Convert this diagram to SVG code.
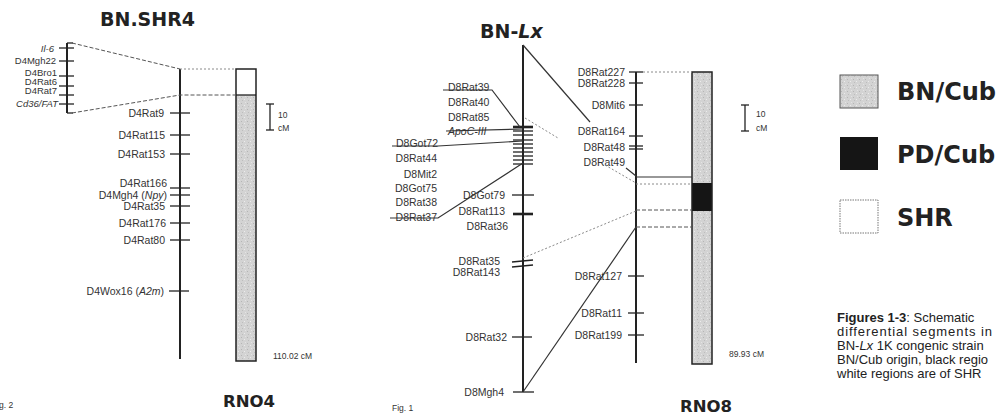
<svg xmlns="http://www.w3.org/2000/svg" width="1003" height="417" viewBox="0 0 1003 417">
<style>
.bg{fill:#fff}
.chr{stroke:#222;stroke-width:2;fill:none}
.tk{stroke:#222;stroke-width:1.3}
.tkb{stroke:#222;stroke-width:2.6}
.sol{stroke:#333;stroke-width:1.2;fill:none}
.dash{stroke:#555;stroke-width:1;stroke-dasharray:4 2;fill:none}
.dot{stroke:#8a8a8a;stroke-width:1;stroke-dasharray:2 2;fill:none}
.lbl{font-family:"Liberation Sans",Arial,sans-serif;font-size:10.5px;fill:#333;text-anchor:end}
.lbs{font-family:"Liberation Sans",Arial,sans-serif;font-size:10.5px;fill:#333}
.lsm{font-family:"Liberation Sans",Arial,sans-serif;font-size:9.5px;fill:#333;text-anchor:end}
.it{font-style:italic}
.ttl{font-family:"DejaVu Sans",Verdana,sans-serif;font-weight:bold;fill:#222}
.sm{font-family:"Liberation Sans",Arial,sans-serif;font-size:8.5px;fill:#333}
.cap{font-family:"Liberation Sans",Arial,sans-serif;font-size:13px;fill:#222}
.box{stroke:#222;stroke-width:1.5;fill:none}
</style>
<defs>
<pattern id="speck" width="6" height="6" patternUnits="userSpaceOnUse">
<rect width="6" height="6" fill="#d3d3d3"/>
<rect x="1" y="1" width="1" height="1" fill="#b5b5b5"/>
<rect x="4" y="3" width="1" height="1" fill="#ececec"/>
<rect x="2" y="4" width="1" height="1" fill="#bdbdbd"/>
<rect x="5" y="0" width="1" height="1" fill="#e4e4e4"/>
</pattern>
</defs>
<rect class="bg" width="1003" height="417"/>

<g id="titles">
<text class="ttl" x="100" y="26" font-size="19">BN.SHR4</text>
<text class="ttl" x="480" y="38" font-size="19">BN-<tspan font-style="italic">Lx</tspan></text>
<text class="ttl" x="223" y="407" font-size="16.5">RNO4</text>
<text class="ttl" x="680" y="412" font-size="16.5">RNO8</text>
<text class="sm" x="-8" y="408" font-size="9">Fig. 2</text>
<text class="sm" x="392" y="411" font-size="10">Fig. 1</text>
</g>

<g id="chr4-small">
<line class="chr" x1="67" y1="43" x2="67" y2="113" stroke-width="1.5"/>
<line class="tk" x1="67" y1="43" x2="73" y2="43"/>
<line class="tk" x1="67" y1="113" x2="73" y2="113"/>
<line class="tk" x1="59" y1="48" x2="74" y2="48"/>
<line class="tk" x1="59" y1="61" x2="74" y2="61"/>
<line class="tk" x1="59" y1="76" x2="74" y2="76"/>
<line class="tk" x1="59" y1="86" x2="74" y2="86"/>
<line class="tk" x1="59" y1="95" x2="74" y2="95"/>
<line class="tk" x1="59" y1="104" x2="74" y2="104"/>
<text class="lsm it" x="54" y="52">Il-6</text>
<text class="lsm" x="56" y="64">D4Mgh22</text>
<text class="lsm" x="57" y="76">D4Bro1</text>
<text class="lsm" x="57" y="85">D4Rat6</text>
<text class="lsm" x="57" y="94">D4Rat7</text>
<text class="lsm it" x="58" y="107">Cd36/FAT</text>
</g>

<g id="chr4-map">
<line class="chr" x1="180" y1="69" x2="180" y2="359"/>
<line class="tk" x1="170" y1="113" x2="190" y2="113"/>
<line class="tk" x1="170" y1="135" x2="190" y2="135"/>
<line class="tk" x1="170" y1="154" x2="190" y2="154"/>
<line class="tk" x1="170" y1="188" x2="190" y2="188"/>
<line class="tk" x1="170" y1="195" x2="190" y2="195"/>
<line class="tk" x1="170" y1="206" x2="190" y2="206"/>
<line class="tk" x1="170" y1="223" x2="190" y2="223"/>
<line class="tk" x1="170" y1="240" x2="190" y2="240"/>
<line class="tk" x1="169" y1="291" x2="189" y2="291"/>
<text class="lbl" x="164" y="117">D4Rat9</text>
<text class="lbl" x="165" y="139">D4Rat115</text>
<text class="lbl" x="165" y="158">D4Rat153</text>
<text class="lbl" x="167" y="187">D4Rat166</text>
<text class="lbl" x="167" y="199">D4Mgh4 (<tspan class="it">Npy</tspan>)</text>
<text class="lbl" x="165" y="210">D4Rat35</text>
<text class="lbl" x="166" y="227">D4Rat176</text>
<text class="lbl" x="165" y="244">D4Rat80</text>
<text class="lbl" x="164" y="295">D4Wox16 (<tspan class="it">A2m</tspan>)</text>
</g>

<g id="chr4-bar">
<rect x="236" y="69" width="20" height="26" fill="#fff"/>
<rect x="236" y="95" width="20" height="266" fill="url(#speck)"/>
<rect class="box" x="236" y="69" width="20" height="292"/>
<line class="tk" x1="236" y1="95" x2="256" y2="95"/>
<text class="sm" x="273" y="359">110.02 cM</text>
</g>

<g id="scale4">
<line class="tk" x1="270" y1="104" x2="270" y2="130" stroke-width="1"/>
<line class="tk" x1="266" y1="104" x2="274" y2="104" stroke-width="1"/>
<line class="tk" x1="266" y1="130" x2="274" y2="130" stroke-width="1"/>
<text class="sm" x="278" y="118">10</text>
<text class="sm" x="278" y="131">cM</text>
</g>

<g id="chr8-map">
<line class="chr" x1="523" y1="45" x2="523" y2="392"/>
<line class="tkb" x1="513" y1="127" x2="533" y2="127"/>
<line class="tk" x1="513" y1="131" x2="533" y2="131"/>
<line class="tk" x1="513" y1="135" x2="533" y2="135"/>
<line class="tk" x1="513" y1="140" x2="533" y2="140"/>
<line class="tk" x1="513" y1="144" x2="533" y2="144"/>
<line class="tk" x1="513" y1="148" x2="533" y2="148"/>
<line class="tk" x1="513" y1="152" x2="533" y2="152"/>
<line class="tk" x1="513" y1="156" x2="533" y2="156"/>
<line class="tk" x1="513" y1="160" x2="533" y2="160"/>
<line class="tk" x1="513" y1="164" x2="533" y2="164"/>
<line class="tk" x1="512" y1="195" x2="534" y2="195"/>
<line class="tkb" x1="513" y1="214" x2="533" y2="214"/>
<line class="tk" x1="512" y1="262" x2="533" y2="260"/>
<line class="tk" x1="512" y1="267" x2="533" y2="265"/>
<line class="tk" x1="512" y1="337" x2="532" y2="337"/>
<line class="tk" x1="513" y1="392" x2="534" y2="392"/>
<text class="lbs" x="448" y="91">D8Rat39</text>
<text class="lbs" x="448" y="106">D8Rat40</text>
<text class="lbs" x="448" y="121">D8Rat85</text>
<text class="lbs it" x="448" y="135">ApoC-III</text>
<text class="lbl" x="438" y="147">D8Got72</text>
<text class="lbl" x="437" y="162">D8Rat44</text>
<text class="lbl" x="437" y="178">D8Mit2</text>
<text class="lbl" x="437" y="192">D8Got75</text>
<text class="lbl" x="437" y="206">D8Rat38</text>
<text class="lbl" x="437" y="221">D8Rat37</text>
<text class="lbl" x="505" y="199">D8Got79</text>
<text class="lbl" x="505" y="215">D8Rat113</text>
<text class="lbl" x="508" y="230">D8Rat36</text>
<text class="lbl" x="500" y="265">D8Rat35</text>
<text class="lbl" x="500" y="276">D8Rat143</text>
<text class="lbl" x="507" y="341">D8Rat32</text>
<text class="lbl" x="504" y="396">D8Mgh4</text>
</g>

<g id="chr8-map2">
<line class="chr" x1="636" y1="72" x2="636" y2="363"/>
<line class="tk" x1="629" y1="72" x2="643" y2="72"/>
<line class="tk" x1="629" y1="83" x2="643" y2="83"/>
<line class="tk" x1="629" y1="105" x2="643" y2="105"/>
<line class="tk" x1="629" y1="136" x2="643" y2="136"/>
<line class="tk" x1="629" y1="146" x2="643" y2="146"/>
<line class="tk" x1="629" y1="149" x2="643" y2="149"/>
<line class="tk" x1="628" y1="276" x2="644" y2="276"/>
<line class="tk" x1="628" y1="313" x2="644" y2="313"/>
<line class="tk" x1="628" y1="335" x2="644" y2="335"/>
<text class="lbl" x="625" y="76">D8Rat227</text>
<text class="lbl" x="625" y="87">D8Rat228</text>
<text class="lbl" x="625" y="109">D8Mit6</text>
<text class="lbl" x="625" y="135">D8Rat164</text>
<text class="lbl" x="625" y="151">D8Rat48</text>
<text class="lbl" x="625" y="166">D8Rat49</text>
<text class="lbl" x="622" y="280">D8Rat127</text>
<text class="lbl" x="622" y="317">D8Rat11</text>
<text class="lbl" x="622" y="339">D8Rat199</text>
</g>

<g id="chr8-bar">
<rect x="692" y="72" width="20" height="292" fill="url(#speck)"/>
<rect x="692" y="183" width="20" height="28" fill="#151515"/>
<rect class="box" x="692" y="72" width="20" height="292"/>
<text class="sm" x="729" y="357">89.93 cM</text>
</g>

<g id="scale8">
<line class="tk" x1="745" y1="105" x2="745" y2="131" stroke-width="1"/>
<line class="tk" x1="741" y1="105" x2="749" y2="105" stroke-width="1"/>
<line class="tk" x1="741" y1="131" x2="749" y2="131" stroke-width="1"/>
<text class="sm" x="756" y="117">10</text>
<text class="sm" x="756" y="131">cM</text>
</g>

<g id="connectors">
<polyline class="dash" points="72,43 180,69"/>
<line class="dot" x1="180" y1="69" x2="236" y2="69"/>
<polyline class="dash" points="72,113 180,95 236,95"/>
<polyline class="sol" points="443,90 492,90 520,127"/>
<line class="sol" x1="446" y1="131" x2="523" y2="129"/>
<polyline class="sol" points="392,146 438,146 523,141"/>
<polyline class="sol" points="390,218 438,218 523,163"/>
<line class="sol" x1="523" y1="45" x2="590" y2="122"/>
<line class="dot" x1="525" y1="118" x2="558" y2="138"/>
<line class="sol" x1="626" y1="168" x2="636" y2="176"/>
<line class="dot" x1="605" y1="165" x2="636" y2="183"/>
<line class="sol" x1="636" y1="177" x2="692" y2="177"/>
<line class="dot" x1="636" y1="184" x2="692" y2="184"/>
<line class="dot" x1="523" y1="258" x2="636" y2="211"/>
<line class="dash" x1="636" y1="210" x2="692" y2="210"/>
<line class="sol" x1="523" y1="392" x2="636" y2="227"/>
<line class="dash" x1="636" y1="227" x2="692" y2="227"/>
<line class="dot" x1="643" y1="72" x2="692" y2="72"/>
</g>

<g id="legend">
<rect x="840" y="75" width="38" height="33" fill="url(#speck)" stroke="#555" stroke-width="1"/>
<text class="ttl" x="897" y="100" font-size="24">BN/Cub</text>
<rect x="840" y="137" width="38" height="33" fill="#151515"/>
<text class="ttl" x="897" y="163" font-size="24">PD/Cub</text>
<rect x="840" y="200" width="38" height="33" fill="#fff" stroke="#777" stroke-width="1" stroke-dasharray="1.5 1"/>
<text class="ttl" x="897" y="226" font-size="24">SHR</text>
</g>

<g id="caption">
<text class="cap" x="837" y="322"><tspan font-weight="bold">Figures 1-3</tspan>:  Schematic</text>
<text class="cap" x="837" y="336" textLength="155" lengthAdjust="spacing">differential  segments  in</text>
<text class="cap" x="837" y="350">BN-<tspan font-style="italic">Lx</tspan> 1K congenic strain</text>
<text class="cap" x="837" y="364">BN/Cub origin, black regio</text>
<text class="cap" x="837" y="378">white regions are of SHR</text>
</g>
</svg>
